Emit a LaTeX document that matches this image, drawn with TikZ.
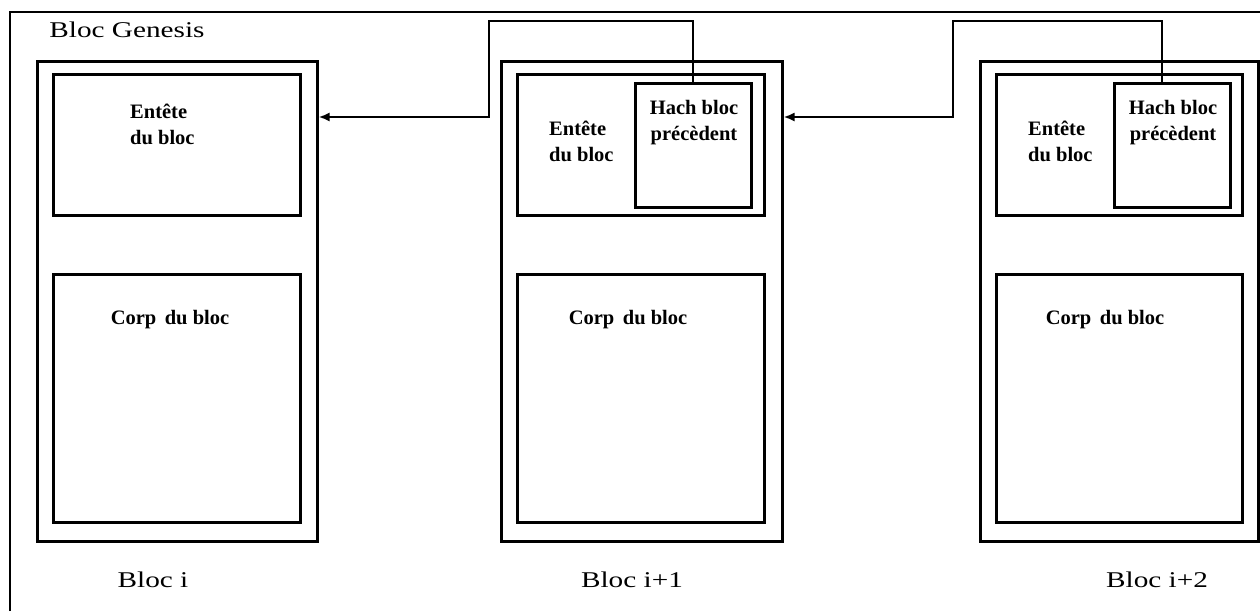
\documentclass[tikz,border=0pt]{standalone}
\usepackage{fontspec}
\setmainfont{Liberation Serif}
\newfontfamily\widefont[FakeStretch=1.3]{Liberation Serif}
\usetikzlibrary{arrows.meta,calc}
\tikzset{
  outerbox/.style={draw, line width=3pt, minimum width=#1, minimum height=480pt, inner sep=0pt},
  hdrbox/.style={draw, line width=3pt, minimum width=#1, minimum height=141pt, inner sep=0pt},
  bodybox/.style={draw, line width=3pt, minimum width=#1, minimum height=248pt, inner sep=0pt},
  hashbox/.style={draw, line width=3pt, minimum width=116pt, minimum height=124pt, inner sep=0pt},
  btext/.style={font=\fontsize{20.5}{26}\selectfont\bfseries, inner sep=0pt},
  rtext/.style={font=\fontsize{22.5}{26}\selectfont\widefont, inner sep=0pt},
  arr/.style={line width=2.6pt, -{Latex[length=11pt,width=9pt]}},
  frame/.style={line width=2.4pt}
}
\begin{document}
\begin{tikzpicture}[x=1pt,y=-1pt]
\useasboundingbox (0,0) rectangle (1260,611);
% frame
\coordinate (f1) at (10,611);
\coordinate (f2) at (10,12);
\coordinate (f3) at (1260,12);
\draw[frame] (f1) -- (f2) -- (f3);
\node[rtext] (title) at (127,30) {Bloc Genesis};
% block 1
\node[outerbox=280pt] (b1) at (177,301) {};
\node[hdrbox=247pt] (hd1) at (176.5,144.5) {};
\node[bodybox=247pt] (bd1) at (176.5,398) {};
\node[btext, align=left, anchor=west] (e1) at (130,124) {Entête\\du bloc};
\node[btext] (c1) at (170,320) {Corp\, du bloc};
\node[rtext] (l1) at (153,580) {Bloc i};
% block 2
\node[outerbox=281pt] (b2) at (641.5,301) {};
\node[hdrbox=247pt] (hd2) at (640.5,144.5) {};
\node[hashbox] (h2) at (693,145) {};
\node[bodybox=247pt] (bd2) at (640.5,398) {};
\node[btext, align=left, anchor=west] (e2) at (549,141) {Entête\\du bloc};
\node[btext, align=center] (t2) at (694,123) {Hach bloc\\précèdent};
\node[btext] (c2) at (628,320) {Corp\, du bloc};
\node[rtext] (l2) at (632,580) {Bloc i+1};
% block 3
\node[outerbox=278pt] (b3) at (1119,301) {};
\node[hdrbox=246pt] (hd3) at (1119,144.5) {};
\node[hashbox] (h3) at (1172,145) {};
\node[bodybox=246pt] (bd3) at (1119,398) {};
\node[btext, align=left, anchor=west] (e3) at (1028,141) {Entête\\du bloc};
\node[btext, align=center] (t3) at (1173,123) {Hach bloc\\précèdent};
\node[btext] (c3) at (1105,320) {Corp\, du bloc};
\node[rtext] (l3) at (1157,580) {Bloc i+2};
% connectors
\coordinate (k1) at (489,21);
\coordinate (k2) at (489,117);
\draw[arr] (h2.north) |- (k1) -- (k2) -- (k2 -| b1.east);
\coordinate (h3top) at ($(h3.north)+(-10,0)$);
\coordinate (k3) at (953,21);
\coordinate (k4) at (953,117);
\draw[arr] (h3top) |- (k3) -- (k4) -- (k4 -| b2.east);
\end{tikzpicture}
\end{document}
